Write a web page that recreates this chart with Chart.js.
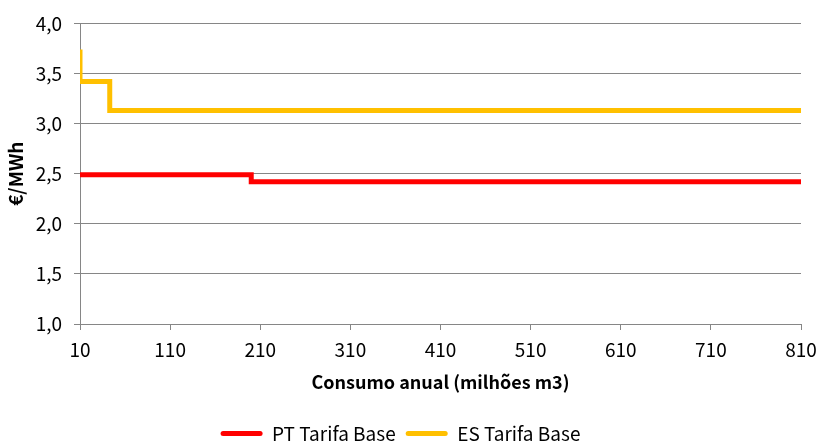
<!DOCTYPE html>
<html>
<head>
<meta charset="utf-8">
<script src="https://cdn.jsdelivr.net/npm/chart.js@4/dist/chart.umd.min.js"></script>
<style>
  html, body { margin: 0; padding: 0; background: #fff; }
  #wrap { width: 819px; height: 441px; }
</style>
</head>
<body>
<div id="wrap"><canvas id="chart"></canvas></div>
<script>
const FONT = '"Noto Sans CJK JP", "Liberation Sans", Arial, sans-serif';

// consumo anual (milhões m3) -> €/MWh, step changes
const ptX = [10, 200, 810];
const ptY = [2.49, 2.42, 2.42];
const esX = [10, 10, 43, 810];
const esY = [3.74, 3.42, 3.13, 3.13];
const xTicks = [10, 110, 210, 310, 410, 510, 610, 710, 810];
const yTicks = [1.0, 1.5, 2.0, 2.5, 3.0, 3.5, 4.0];

const toPts = (xs, ys) => xs.map((x, i) => ({ x, y: ys[i] }));

new Chart(document.getElementById('chart'), {
  type: 'line',
  data: {
    datasets: [
      {
        label: 'PT Tarifa Base',
        data: toPts(ptX, ptY),
        borderColor: '#ff0000',
        backgroundColor: '#ff0000',
        borderWidth: 5,
        stepped: 'before',
        pointRadius: 0,
      },
      {
        label: 'ES Tarifa Base',
        data: toPts(esX, esY),
        borderColor: '#ffc000',
        backgroundColor: '#ffc000',
        borderWidth: 5,
        stepped: 'before',
        pointRadius: 0,
      },
    ]
  },
  options: {
    responsive: true, maintainAspectRatio: false,
    animation: false,
    layout: { padding: { top: 23, right: 18, bottom: -12, left: 0 } },
    plugins: {
      legend: {
        position: 'bottom',
        labels: {
          font: { family: FONT, size: 19 },
          color: '#000',
          boxWidth: 42,
          boxHeight: 5,
          padding: 10,
          useBorderRadius: true,
          generateLabels: chart => Chart.defaults.plugins.legend.labels.generateLabels(chart)
            .map(l => ({ ...l, lineWidth: 0, borderRadius: 2.5 })),
        }
      },
      tooltip: { enabled: false },
    },
    scales: {
      x: {
        type: 'linear',
        min: 10, max: 810,
        afterBuildTicks: scale => { scale.ticks = xTicks.map(v => ({ value: v })); },
        afterFit: scale => {
          scale.height = 90;
          scale.paddingLeft = 0;
          scale.paddingRight = 0;
        },
        ticks: { font: { family: FONT, size: 19 }, color: '#000', maxRotation: 0, padding: 8 },
        grid: { drawOnChartArea: false, drawTicks: true, tickLength: 6, color: '#868686' },
        border: { color: '#868686', width: 1 },
        title: {
          display: true,
          text: 'Consumo anual (milhões m3)',
          font: { family: FONT, size: 18, weight: 'bold' },
          color: '#000',
          padding: { top: 21, bottom: 21 },
        },
      },
      y: {
        min: 1, max: 4,
        afterBuildTicks: scale => { scale.ticks = yTicks.map(v => ({ value: v })); },
        afterFit: scale => { scale.width = 80; },
        ticks: {
          font: { family: FONT, size: 19 },
          color: '#000',
          padding: 12,
          callback: v => v.toFixed(1).replace('.', ','),
        },
        grid: { color: '#868686', tickLength: 6 },
        border: { color: '#868686', width: 1 },
        title: {
          display: true,
          text: '€/MWh',
          font: { family: FONT, size: 19, weight: 'bold' },
          color: '#000',
          padding: { top: 4, bottom: 4 },
        },
      }
    }
  }
});
</script>
</body>
</html>
